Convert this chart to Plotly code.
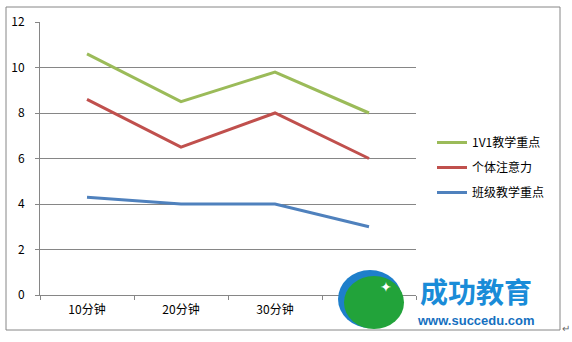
import plotly.graph_objects as go

# Chart data
categories = ["10分钟", "20分钟", "30分钟", "40分钟"]
series_names = ["1V1教学重点", "个体注意力", "班级教学重点"]
one_on_one = [10.6, 8.5, 9.8, 8.0]
attention = [8.6, 6.5, 8.0, 6.0]
class_focus = [4.3, 4.0, 4.0, 3.0]
y_ticks = [0, 2, 4, 6, 8, 10, 12]

colors = ["#9BBB59", "#C0504D", "#4F81BD"]
values = [one_on_one, attention, class_focus]

W, H = 572, 342
L, R, T, B = 40, 416, 22, 295  # plot area in pixels


def px(x):
    return (x - L) / (R - L)


def py(y):
    return (B - y) / (B - T)


fig = go.Figure()
for name, vals, col in zip(series_names, values, colors):
    fig.add_trace(go.Scatter(
        x=categories, y=vals, name=name, mode="lines",
        line=dict(color=col, width=3), legendgroup=name,
    ))

grid = "#868686"
font_family = "Noto Sans CJK SC, Liberation Sans, sans-serif"

fig.update_layout(
    width=W, height=H,
    margin=dict(l=L, r=W - R, t=T, b=H - B),
    paper_bgcolor="white", plot_bgcolor="white",
    font=dict(family=font_family, size=12, color="black"),
    xaxis=dict(
        type="category", range=[-0.5, 3.5], showgrid=False,
        showline=True, linecolor=grid, linewidth=1,
        ticks="outside", tickson="boundaries", ticklen=4, tickcolor=grid,
        tickfont=dict(size=12), ticklabelstandoff=4,
    ),
    yaxis=dict(
        range=[0, 12], tickvals=y_ticks, showgrid=True, gridcolor=grid,
        gridwidth=1, showline=True, linecolor=grid, linewidth=1,
        ticks="outside", ticklen=4, tickcolor=grid, zeroline=False,
        tickfont=dict(size=12), ticklabelstandoff=8,
    ),
    legend=dict(
        x=px(432), y=py(128), xanchor="left", yanchor="top",
        bgcolor="rgba(0,0,0,0)", itemwidth=30, tracegroupgap=6,
        font=dict(size=12),
    ),
    showlegend=True,
)

# Chart frame
fig.add_shape(type="rect", xref="paper", yref="paper",
              x0=px(6), x1=px(560), y0=py(330), y1=py(7),
              line=dict(color=grid, width=1), layer="below")

# Brand logo: blue disc with a green disc on top
fig.add_shape(type="circle", xref="paper", yref="paper",
              x0=px(338), x1=px(402), y0=py(328), y1=py(270),
              fillcolor="#1E7FCB", line=dict(width=0), layer="above")
fig.add_shape(type="circle", xref="paper", yref="paper",
              x0=px(344), x1=px(404), y0=py(329), y1=py(276),
              fillcolor="#22A33A", line=dict(width=0), layer="above")
fig.add_annotation(xref="paper", yref="paper", x=px(386), y=py(286),
                   xanchor="center", yanchor="middle",
                   text="✦", showarrow=False,
                   font=dict(size=14, color="white"))

fig.add_annotation(xref="paper", yref="paper", x=px(476), y=py(291),
                   xanchor="center", yanchor="middle",
                   text="<b>成功教育</b>", showarrow=False,
                   font=dict(size=28, color="#1A8CD8", family=font_family))
fig.add_annotation(xref="paper", yref="paper", x=px(476), y=py(320),
                   xanchor="center", yanchor="middle",
                   text="<b>www.succedu.com</b>", showarrow=False,
                   font=dict(size=13, color="#1570C0",
                             family="Liberation Sans, Arial, sans-serif"))
fig.add_annotation(xref="paper", yref="paper", x=px(566), y=py(327),
                   xanchor="center", yanchor="middle",
                   text="↵", showarrow=False,
                   font=dict(size=10, color="#666666"))

fig.write_html("out.html")
